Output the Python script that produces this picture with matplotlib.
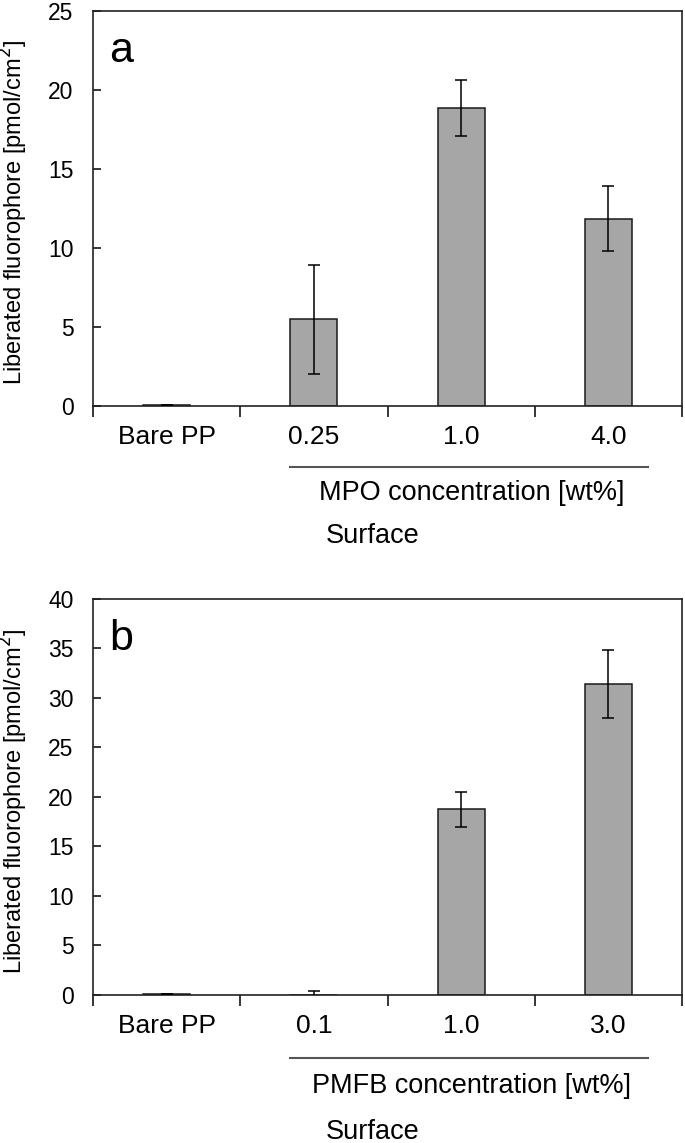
import matplotlib
matplotlib.use('Agg')
import matplotlib.pyplot as plt
import matplotlib.transforms as mtransforms

plt.rcParams['font.family'] = ['Liberation Sans', 'DejaVu Sans']

# data
categories_a = ['Bare PP', '0.25', '1.0', '4.0']
values_a = [0.05, 5.5, 18.85, 11.85]
errors_a = [0.0, 3.45, 1.78, 2.05]

categories_b = ['Bare PP', '0.1', '1.0', '3.0']
values_b = [0.05, 0.0, 18.75, 31.45]
errors_b = [0.0, 0.45, 1.77, 3.44]

ylabel = 'Liberated fluorophore [pmol/cm$^2$]'
conc_label_a = 'MPO concentration [wt%]'
conc_label_b = 'PMFB concentration [wt%]'

BAR_COLOR = '#a6a6a6'


def draw_panel(ax, cats, vals, errs, ymax, letter, conc_label, y_line, y_conc, y_surf):
    x = list(range(len(cats)))
    ax.bar(x, vals, width=0.32, color=BAR_COLOR, edgecolor='#1a1a1a', linewidth=1.1, zorder=2)
    ax.errorbar(x, vals, yerr=errs, fmt='none', ecolor='black', elinewidth=1.1,
                capsize=4, capthick=1.1, zorder=3)

    ax.set_xlim(-0.5, len(cats) - 0.5)
    ax.set_ylim(0, ymax)
    ax.set_yticks(range(0, ymax + 1, 5))

    # category labels in the middle, ticks on the boundaries (Excel style)
    ax.set_xticks([i + 0.5 for i in range(-1, len(cats))])
    ax.set_xticklabels([])
    ax.set_xticks(x, minor=True)
    ax.set_xticklabels(cats, minor=True, fontsize=19)
    ax.tick_params(axis='x', which='major', direction='out', length=8, width=1.1)
    ax.tick_params(axis='x', which='minor', length=0, pad=13.5)
    ax.tick_params(axis='y', direction='in', length=6, width=1.1, labelsize=16.5, pad=14)

    for spine in ax.spines.values():
        spine.set_linewidth(1.2)
        spine.set_color('#222222')

    ax.set_ylabel(ylabel, fontsize=17)
    ax.yaxis.set_label_coords(-0.107, 0.49)

    ax.text(0.027, 0.87, letter, transform=ax.transAxes, fontsize=31, va='baseline')

    # bracket line and group labels below the axis
    trans = mtransforms.blended_transform_factory(ax.transData, ax.transAxes)
    ax.plot([0.84, 3.27], [y_line, y_line], transform=trans, color='#555555',
            linewidth=1.5, clip_on=False)
    ax.text(2.07, y_conc, conc_label, transform=trans, fontsize=19.5,
            ha='center', va='center')
    ax.text(1.40, y_surf, 'Surface', transform=trans, fontsize=19.5,
            ha='center', va='center')


fig = plt.figure(figsize=(6.85, 11.43), dpi=100)
ax_a = fig.add_axes([0.1358, 0.6448, 0.8598, 0.3456])
ax_b = fig.add_axes([0.1358, 0.1295, 0.8598, 0.3465])

draw_panel(ax_a, categories_a, values_a, errors_a, 25, 'a', conc_label_a, -0.154, -0.221, -0.329)
draw_panel(ax_b, categories_b, values_b, errors_b, 40, 'b', conc_label_b, -0.158, -0.23, -0.345)

plt.savefig('out.png', dpi=100)
